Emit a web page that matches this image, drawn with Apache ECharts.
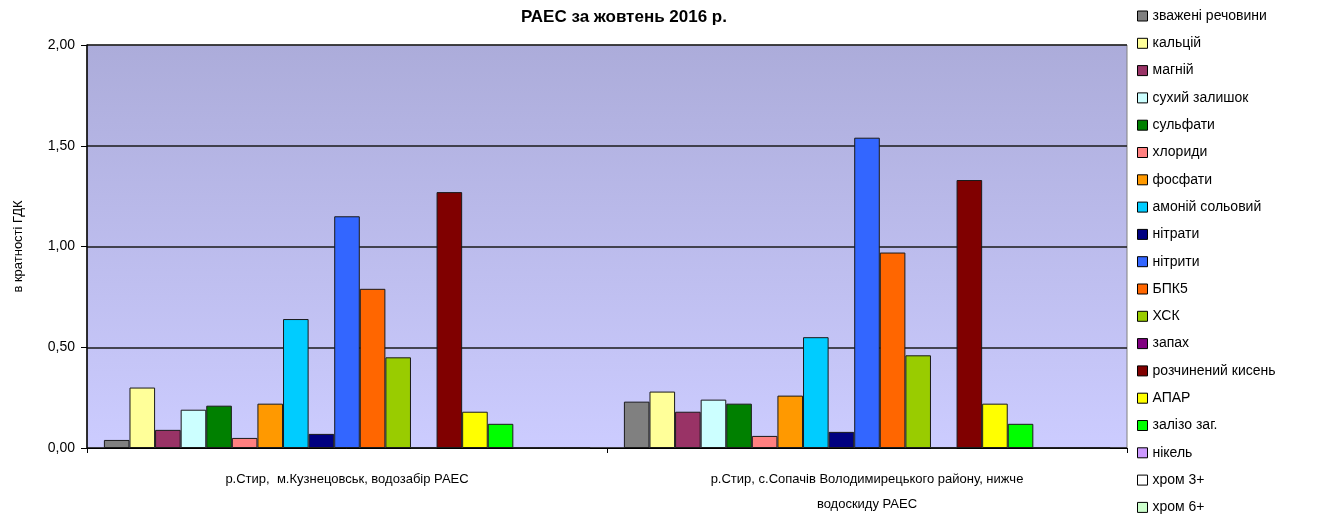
<!DOCTYPE html>
<html>
<head>
<meta charset="utf-8">
<script src="https://cdn.jsdelivr.net/npm/echarts@6/dist/echarts.min.js"></script>
<style>
  html, body { margin: 0; padding: 0; background: #fff; }
  #main { width: 1323px; height: 517px; }
</style>
</head>
<body>
<div id="main"></div>
<script>
  // пункти спостереження
  var categories = [
    'р.Стир,  м.Кузнецовськ, водозабір РАЕС',
    'р.Стир, с.Сопачів Володимирецького району, нижче\nводоскиду РАЕС'
  ];
  // показники
  var names = ['зважені речовини', 'кальцій', 'магній', 'сухий залишок', 'сульфати',
    'хлориди', 'фосфати', 'амоній сольовий', 'нітрати', 'нітрити', 'БПК5', 'ХСК',
    'запах', 'розчинений кисень', 'АПАР', 'залізо заг.', 'нікель', 'хром 3+', 'хром 6+'];
  var colors = ['#808080', '#FFFF99', '#993366', '#CCFFFF', '#008000', '#FF8080',
    '#FF9900', '#00CCFF', '#000080', '#3366FF', '#FF6600', '#99CC00', '#800080',
    '#800000', '#FFFF00', '#00FF00', '#CC99FF', '#FFFFFF', '#CCFFCC'];
  // значення в кратності ГДК: [водозабір, нижче водоскиду]
  var values = [
    [0.04, 0.23],
    [0.30, 0.28],
    [0.09, 0.18],
    [0.19, 0.24],
    [0.21, 0.22],
    [0.05, 0.06],
    [0.22, 0.26],
    [0.64, 0.55],
    [0.07, 0.08],
    [1.15, 1.54],
    [0.79, 0.97],
    [0.45, 0.46],
    [0, 0],
    [1.27, 1.33],
    [0.18, 0.22],
    [0.12, 0.12],
    [0, 0],
    [0, 0],
    [0, 0]
  ];
  var yTicks = [0, 0.5, 1, 1.5, 2];

  var myChart = echarts.init(document.getElementById('main'));
  var series = [];
  for (var i = 0; i < names.length; i++) {
    series.push({
      name: names[i],
      type: 'bar',
      data: values[i],
      barGap: 0,
      barCategoryGap: '6.5%',
      itemStyle: { color: colors[i], borderColor: '#1a1a1a', borderWidth: 1 }
    });
  }

  var option = {
    animation: false,
    textStyle: { fontFamily: 'Liberation Sans, Arial, sans-serif' },
    title: {
      text: 'РАЕС за жовтень 2016 р.',
      left: 516,
      top: 4,
      textStyle: { fontSize: 17, fontWeight: 'bold', color: '#000' }
    },
    legend: {
      orient: 'vertical',
      left: 1137,
      top: 9,
      height: 508,
      padding: 0,
      itemWidth: 10,
      itemHeight: 10,
      itemGap: 13.3,
      icon: 'rect',
      itemStyle: { borderColor: '#000', borderWidth: 1 },
      textStyle: { fontSize: 14, color: '#000', lineHeight: 14 },
      data: names
    },
    grid: {
      left: 87, right: 196, top: 45, bottom: 64,
      show: true,
      borderColor: '#808080',
      borderWidth: 1,
      backgroundColor: {
        type: 'linear', x: 0, y: 0, x2: 0, y2: 1,
        colorStops: [
          { offset: 0, color: '#ACACDA' },
          { offset: 1, color: '#CCCCFF' }
        ]
      }
    },
    xAxis: {
      type: 'category',
      data: categories,
      axisLine: { lineStyle: { color: '#000', width: 1 } },
      axisTick: { show: true, length: 5, lineStyle: { color: '#000' } },
      axisLabel: { color: '#000', fontSize: 13, margin: 19, lineHeight: 25, interval: 0 }
    },
    yAxis: {
      type: 'value',
      min: yTicks[0],
      max: yTicks[yTicks.length - 1],
      interval: 0.5,
      name: 'в кратності ГДК',
      nameLocation: 'middle',
      nameGap: 62,
      nameTextStyle: { color: '#000', fontSize: 13 },
      axisLine: { show: true, lineStyle: { color: '#000', width: 1.5 } },
      axisTick: { show: true, length: 6, lineStyle: { color: '#000' } },
      axisLabel: {
        color: '#000', fontSize: 14, margin: 12,
        formatter: function (v) { return v.toFixed(2).replace('.', ','); }
      },
      splitLine: { show: true, lineStyle: { color: '#1a1a1a', width: 1.5 } }
    },
    series: series
  };

  myChart.setOption(option);
</script>
</body>
</html>
